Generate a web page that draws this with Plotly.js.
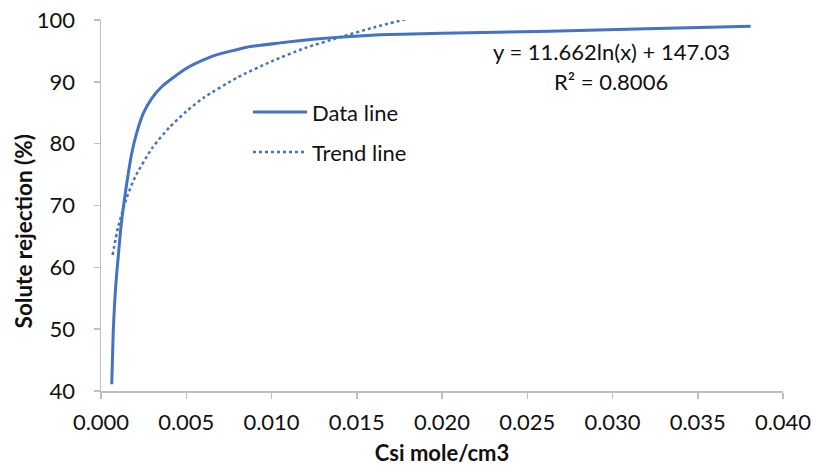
<!DOCTYPE html>
<html>
<head>
<meta charset="utf-8">
<script src="https://cdn.plot.ly/plotly-3.0.1.min.js"></script>
<style>html,body{margin:0;padding:0;background:#fff;}#chart{width:813px;height:466px;}</style>
</head>
<body>
<div id="chart"></div>
<script>
// Data line
var dataX = [0.00063, 0.00072, 0.00082, 0.00092, 0.00101, 0.00115, 0.00130, 0.00151, 0.0018, 0.00209, 0.00248, 0.00297, 0.00356, 0.00424, 0.00502, 0.00581, 0.00659, 0.00855, 0.0105, 0.01245, 0.0144, 0.01636, 0.0200, 0.0263, 0.0320, 0.0381];
var dataY = [41.1, 49.8, 55.2, 59.0, 61.7, 66.0, 69.5, 73.6, 78.4, 81.7, 84.9, 87.3, 89.2, 90.7, 92.2, 93.3, 94.2, 95.6, 96.3, 96.9, 97.3, 97.6, 97.85, 98.2, 98.6, 99.0];
// Trend line
var trendX = [0.00068, 0.001, 0.0015, 0.002, 0.003, 0.004, 0.005, 0.006, 0.008, 0.010, 0.012, 0.014, 0.016, 0.018];
var trendY = [62.0, 66.5, 71.2, 74.6, 79.3, 82.6, 85.2, 87.4, 90.7, 93.3, 95.5, 97.2, 98.8, 100.2];
var xTicks = [0, 0.005, 0.01, 0.015, 0.02, 0.025, 0.03, 0.035, 0.04];
var xTickText = ["0.000", "0.005", "0.010", "0.015", "0.020", "0.025", "0.030", "0.035", "0.040"];
var yTicks = [40, 50, 60, 70, 80, 90, 100];
var seriesNames = ["Data line", "Trend line"];
var xTitle = "Csi mole/cm3";
var yTitle = "Solute rejection (%)";
var equationText = "y = 11.662ln(x) + 147.03";
var r2Text = "R² = 0.8006";

var blue = "#4472C4";
var fontFam = "Lato, 'Open Sans', sans-serif";

var traces = [
  {x: dataX, y: dataY, mode: "lines", name: seriesNames[0], line: {color: blue, width: 3, shape: "spline", smoothing: 0.5}},
  {x: trendX, y: trendY, mode: "lines", name: seriesNames[1], line: {color: blue, width: 2.5, dash: "dot", shape: "spline", smoothing: 0.6}}
];

var layout = {
  width: 813, height: 466,
  margin: {l: 101, r: 30, t: 20, b: 75},
  paper_bgcolor: "#fff", plot_bgcolor: "#fff",
  font: {family: fontFam, color: "#111", size: 22},
  showlegend: false,
  xaxis: {
    range: [0, 0.04], tickvals: xTicks, ticktext: xTickText,
    showgrid: false, zeroline: false, showline: true, linecolor: "#bfbfbf", linewidth: 1.5,
    ticks: "outside", ticklen: 6, tickcolor: "#bfbfbf", tickwidth: 1.5,
    tickfont: {size: 22, family: fontFam}, ticklabelstandoff: 5,
    title: {text: "<b>" + xTitle + "</b>", font: {size: 22, family: fontFam}, standoff: 12}
  },
  yaxis: {
    range: [40, 100], tickvals: yTicks,
    showgrid: false, zeroline: false, showline: true, linecolor: "#bfbfbf", linewidth: 1.5,
    ticks: "outside", ticklen: 6, tickcolor: "#bfbfbf", tickwidth: 1.5,
    tickfont: {size: 22, family: fontFam}, ticklabelstandoff: 14
  },
  shapes: [
    {type: "line", xref: "paper", yref: "paper", x0: 0.2229, x1: 0.3021, y0: 0.752, y1: 0.752, line: {color: blue, width: 3}},
    {type: "line", xref: "paper", yref: "paper", x0: 0.2229, x1: 0.3021, y0: 0.644, y1: 0.644, line: {color: blue, width: 2.5, dash: "dot"}}
  ],
  annotations: [
    {xref: "paper", yref: "paper", x: -0.113, y: 0.43, text: "<b>" + yTitle + "</b>", textangle: -90, showarrow: false, font: {size: 22.5, family: fontFam}, xanchor: "center", yanchor: "middle"},
    {xref: "paper", yref: "paper", x: 0.306, y: 0.752, text: seriesNames[0], showarrow: false, font: {size: 22, family: fontFam}, xanchor: "left", yanchor: "middle"},
    {xref: "paper", yref: "paper", x: 0.306, y: 0.644, text: seriesNames[1], showarrow: false, font: {size: 22, family: fontFam}, xanchor: "left", yanchor: "middle"},
    {xref: "paper", yref: "paper", x: 0.748, y: 0.914, text: equationText, showarrow: false, font: {size: 22, family: fontFam}, xanchor: "center", yanchor: "middle"},
    {xref: "paper", yref: "paper", x: 0.748, y: 0.833, text: r2Text, showarrow: false, font: {size: 22, family: fontFam}, xanchor: "center", yanchor: "middle"}
  ]
};

Plotly.newPlot("chart", traces, layout, {displayModeBar: false, staticPlot: true});
</script>
</body>
</html>
